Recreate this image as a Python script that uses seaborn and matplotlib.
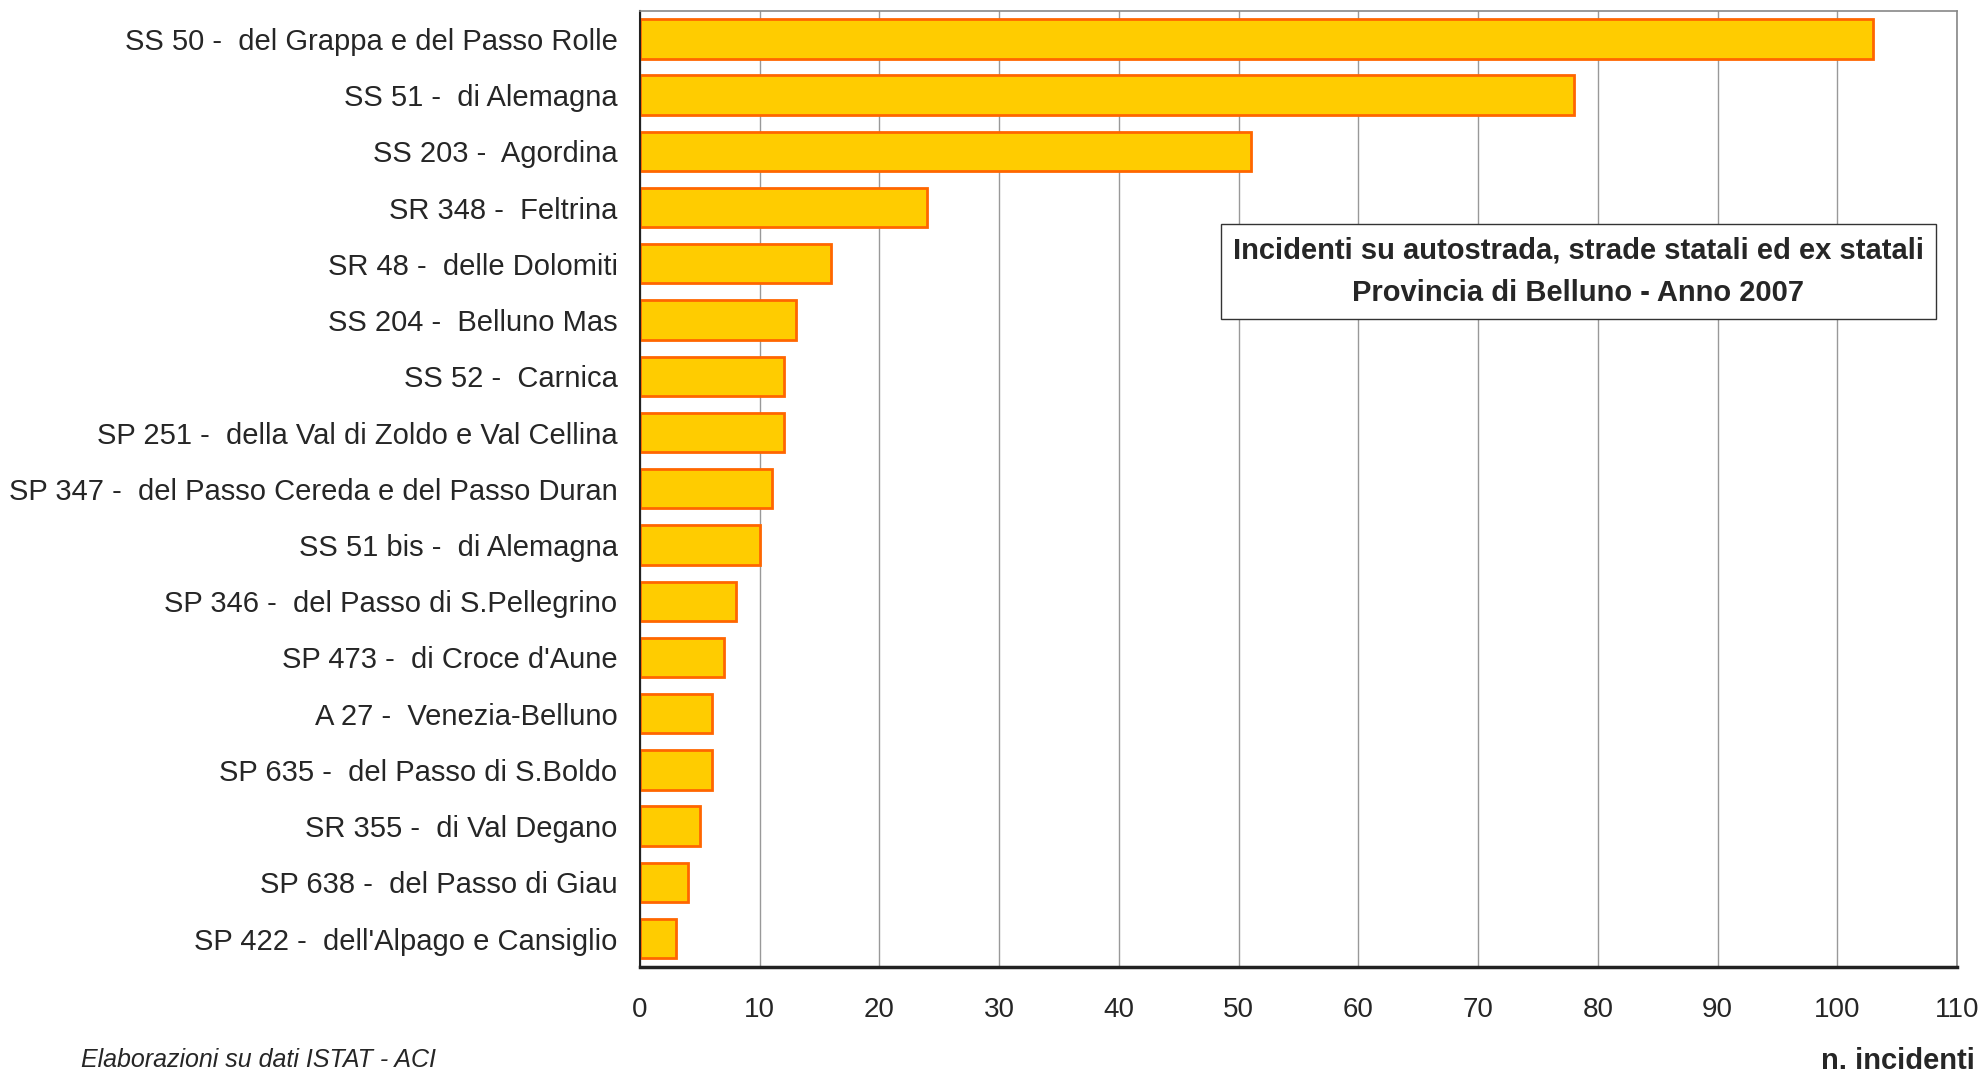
import pandas as pd
import numpy as np
import matplotlib.pyplot as plt
import seaborn as sns

# data
strade = ["SS 50 -  del Grappa e del Passo Rolle", "SS 51 -  di Alemagna", "SS 203 -  Agordina",
          "SR 348 -  Feltrina", "SR 48 -  delle Dolomiti", "SS 204 -  Belluno Mas", "SS 52 -  Carnica",
          "SP 251 -  della Val di Zoldo e Val Cellina", "SP 347 -  del Passo Cereda e del Passo Duran",
          "SS 51 bis -  di Alemagna", "SP 346 -  del Passo di S.Pellegrino", "SP 473 -  di Croce d'Aune",
          "A 27 -  Venezia-Belluno", "SP 635 -  del Passo di S.Boldo", "SR 355 -  di Val Degano",
          "SP 638 -  del Passo di Giau", "SP 422 -  dell'Alpago e Cansiglio"]
incidenti = [103, 78, 51, 24, 16, 13, 12, 12, 11, 10, 8, 7, 6, 6, 5, 4, 3]
x_ticks = list(range(0, 111, 10))

df = pd.DataFrame({"strada": strade, "incidenti": incidenti})

sns.set_style("white")
plt.rcParams['font.family'] = ['Liberation Sans', 'DejaVu Sans']

fig = plt.figure(figsize=(19.87, 10.73), dpi=100)
ax = fig.add_axes([0.322, 0.099, 0.663, 0.891])

sns.barplot(data=df, y="strada", x="incidenti", orient="h", color="#FFCC00",
            edgecolor="#FF6600", linewidth=2, width=0.7, saturation=1, ax=ax)

ax.set_xlim(0, 110)
ax.set_ylim(len(strade) - 0.5, -0.5)
ax.set_xticks(x_ticks)
ax.set_xticklabels([str(t) for t in x_ticks], fontsize=20)
ax.tick_params(axis="x", length=12, width=1, color="black", direction="out", pad=10)
ax.xaxis.grid(True, color="#999999", linewidth=1)
ax.set_axisbelow(True)

# y ticks at category boundaries like Excel
ax.tick_params(axis="y", length=0, labelsize=21, pad=16)
ax.set_yticks(np.arange(-0.5, len(strade), 1), minor=True)
ax.tick_params(axis="y", which="minor", length=8, width=1.2, color="#333333")
ax.set_xlabel("")
ax.set_ylabel("")

for s in ["top", "right"]:
    ax.spines[s].set_color("#888888")
    ax.spines[s].set_linewidth(1.2)
ax.spines["left"].set_color("#222222")
ax.spines["left"].set_linewidth(1.5)
ax.spines["bottom"].set_color("#222222")
ax.spines["bottom"].set_linewidth(2.5)

ax.text(0.7125, 0.727, "Incidenti su autostrada, strade statali ed ex statali\nProvincia di Belluno - Anno 2007",
        transform=ax.transAxes, ha="center", va="center", fontsize=21, fontweight="bold",
        linespacing=1.65,
        bbox=dict(boxstyle="square,pad=0.42", facecolor="white", edgecolor="#333333", linewidth=1))

fig.text(0.955, 0.011, "n. incidenti", ha="center", va="center", fontsize=21, fontweight="bold")
fig.text(0.041, 0.001, "Elaborazioni su dati ISTAT - ACI", ha="left", va="bottom", fontsize=18,
         style="italic")

fig.savefig("out.png", dpi=100)
